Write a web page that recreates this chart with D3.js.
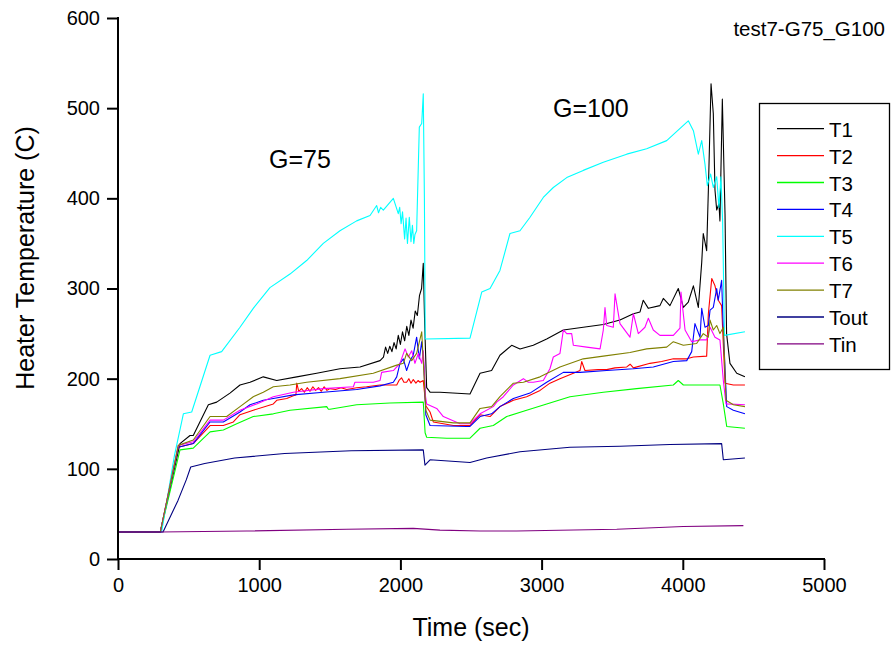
<!DOCTYPE html>
<html>
<head>
<meta charset="utf-8">
<script src="https://cdn.jsdelivr.net/npm/d3@7"></script>
<style>
  body { margin: 0; background: #fff; }
  svg { display: block; font-family: 'Liberation Sans', Arial, sans-serif; }
</style>
</head>
<body>
<svg id="chart" width="893" height="648"></svg>
<script>
// series names, colours and [time (sec), temperature (C)] readings
const names = ['T1', 'T2', 'T3', 'T4', 'T5', 'T6', 'T7', 'Tout', 'Tin'];
const colors = ['#000000', '#ff0000', '#00ff00', '#0000ff', '#00ffff', '#ff00ff', '#808000', '#000080', '#800080'];

const t1 = [[0,30],[300,30],[439,128],[510,137],[533,137],[640,171],[699,174],[793,184],[864,193],[935,196],[1029,202],[1124,198],[1266,202],[1407,206],[1572,211],[1714,213],[1856,220],[1880,224],[1895,235],[1910,228],[1925,236],[1940,230],[1955,240],[1970,233],[1985,248],[2000,238],[2015,252],[2030,242],[2045,258],[2060,248],[2075,265],[2090,256],[2105,275],[2120,270],[2135,292],[2150,300],[2162,328],[2172,260],[2186,190],[2210,185],[2280,185],[2493,183],[2564,206],[2646,209],[2705,226],[2788,237],[2847,233],[2941,237],[3036,244],[3154,254],[3295,257],[3437,260],[3555,265],[3650,272],[3697,274],[3720,287],[3756,278],[3838,281],[3862,289],[3909,281],[3968,300],[4004,279],[4039,285],[4075,303],[4110,279],[4134,329],[4145,361],[4169,342],[4181,409],[4200,527],[4216,494],[4228,409],[4240,387],[4256,394],[4263,375],[4280,510],[4299,383],[4310,250],[4334,217],[4382,206],[4440,202]];
const t2 = [[0,30],[300,30],[427,124],[533,128],[652,148],[746,148],[817,152],[864,160],[958,165],[1100,172],[1124,176],[1195,178],[1242,181],[1260,182],[1266,195],[1280,186],[1300,189],[1320,185],[1340,190],[1360,186],[1380,191],[1400,187],[1420,190],[1440,186],[1460,191],[1480,187],[1501,189],[1540,188],[1580,190],[1620,188],[1690,190],[1760,191],[1856,193],[1974,193],[1990,198],[2008,201],[2025,196],[2044,196],[2060,200],[2075,195],[2091,199],[2110,195],[2125,198],[2139,196],[2162,198],[2180,170],[2210,163],[2233,152],[2375,148],[2493,148],[2564,160],[2635,158],[2705,169],[2800,176],[2894,180],[2989,187],[3059,195],[3130,200],[3225,206],[3272,209],[3284,219],[3307,209],[3400,210],[3461,210],[3520,212],[3603,213],[3627,216],[3650,212],[3768,217],[3850,219],[3933,222],[4028,222],[4075,224],[4169,225],[4181,272],[4205,311],[4228,303],[4251,287],[4275,281],[4299,195],[4358,193],[4440,193]];
const t3 = [[0,30],[300,30],[439,121],[533,123],[652,141],[746,143],[841,150],[958,158],[1100,161],[1218,165],[1478,169],[1490,166],[1501,166],[1690,171],[1926,173],[2162,174],[2175,140],[2186,135],[2328,134],[2493,134],[2564,145],[2658,148],[2753,158],[2894,165],[3036,172],[3201,180],[3437,185],[3673,189],[3933,193],[3968,198],[4004,193],[4263,193],[4287,172],[4311,147],[4440,145]];
const t4 = [[0,30],[300,30],[427,124],[533,128],[652,152],[746,152],[864,163],[935,171],[1029,176],[1100,178],[1242,182],[1454,185],[1690,188],[1856,192],[1950,196],[1974,202],[1997,217],[2021,222],[2044,209],[2068,220],[2091,226],[2115,246],[2134,222],[2151,241],[2167,213],[2180,160],[2210,148],[2470,147],[2493,147],[2564,158],[2646,161],[2705,169],[2800,178],[2918,184],[3036,196],[3154,207],[3272,207],[3461,209],[3650,211],[3791,213],[3933,219],[4028,220],[4063,230],[4086,261],[4122,246],[4134,278],[4157,257],[4181,259],[4193,276],[4216,279],[4240,300],[4251,287],[4275,309],[4287,254],[4311,169],[4358,165],[4440,161]];
const t5 = [[0,30],[309,30],[400,115],[463,161],[522,163],[652,226],[734,230],[864,257],[958,278],[1076,301],[1218,316],[1336,331],[1454,350],[1572,364],[1690,375],[1785,381],[1832,392],[1845,384],[1860,390],[1879,387],[1950,400],[1985,383],[1995,390],[2005,372],[2015,385],[2030,355],[2040,378],[2050,350],[2063,379],[2075,352],[2085,370],[2095,350],[2103,360],[2115,364],[2134,479],[2151,483],[2162,516],[2170,400],[2176,244],[2493,245],[2576,296],[2635,300],[2705,320],[2776,361],[2847,364],[2918,379],[3012,401],[3083,412],[3178,423],[3295,431],[3437,440],[3603,449],[3744,455],[3886,464],[4004,481],[4039,486],[4075,475],[4110,449],[4134,464],[4157,438],[4174,414],[4197,427],[4216,412],[4240,424],[4256,390],[4270,424],[4282,375],[4295,248],[4440,252]];
const t6 = [[0,30],[300,30],[427,126],[533,130],[652,154],[746,154],[864,165],[982,172],[1100,180],[1242,185],[1454,189],[1667,191],[1678,196],[1808,196],[1856,198],[1867,207],[1950,209],[1997,217],[2033,233],[2056,224],[2080,231],[2103,217],[2127,228],[2151,217],[2162,231],[2178,180],[2186,172],[2257,167],[2304,158],[2422,150],[2493,150],[2564,161],[2658,169],[2682,174],[2729,180],[2800,193],[2871,200],[2906,196],[2941,196],[3012,198],[3059,211],[3083,224],[3130,228],[3154,254],[3178,250],[3213,250],[3225,237],[3319,235],[3414,233],[3437,254],[3449,279],[3461,259],[3508,257],[3520,294],[3555,261],[3626,246],[3650,272],[3685,250],[3732,257],[3756,267],[3791,254],[3838,248],[3933,248],[3980,256],[3987,296],[4016,254],[4063,241],[4122,243],[4169,243],[4193,257],[4228,246],[4263,243],[4287,198],[4306,172],[4440,171]];
const t7 = [[0,30],[300,30],[427,126],[533,132],[652,158],[770,158],[864,169],[958,180],[1029,185],[1100,191],[1218,193],[1336,196],[1572,200],[1808,206],[1974,215],[2021,217],[2044,228],[2080,220],[2115,228],[2151,252],[2162,220],[2180,165],[2210,154],[2375,151],[2493,151],[2564,167],[2646,169],[2705,180],[2800,195],[2871,196],[2989,202],[3130,213],[3295,222],[3437,225],[3626,229],[3744,233],[3886,235],[3933,241],[4004,237],[4098,239],[4145,250],[4181,246],[4193,265],[4216,254],[4240,259],[4263,250],[4287,257],[4306,176],[4358,171],[4440,169]];
const tout = [[0,30],[319,30],[425,65],[484,88],[515,102],[614,106],[826,112],[1180,117],[1652,120],[2162,121],[2174,104],[2210,110],[2493,107],[2611,112],[2847,119],[3201,124],[3555,125],[3909,127],[4275,128],[4287,110],[4440,112]];
const tin = [[0,30],[297,30],[911,31],[1620,33],[2091,34],[2280,32],[2564,31],[2823,31],[3532,33],[4004,36],[4429,37]];

const seriesData = [t1, t2, t3, t4, t5, t6, t7, tout, tin];

const xTicks = [0, 1000, 2000, 3000, 4000, 5000];
const yTicks = [0, 100, 200, 300, 400, 500, 600];

const svg = d3.select('#chart');

// plot area
const x = d3.scaleLinear().domain([0, 5000]).range([118, 824]);
const y = d3.scaleLinear().domain([0, 600]).range([559, 18]);

// lines
const line = d3.line().x(d => x(d[0])).y(d => y(d[1]));
svg.append('g')
  .selectAll('path')
  .data(seriesData)
  .enter()
  .append('path')
  .attr('d', line)
  .attr('fill', 'none')
  .attr('stroke', (d, i) => colors[i])
  .attr('stroke-width', 1.1)
  .attr('stroke-linejoin', 'round');

// x axis: major + minor ticks
const xAxis = svg.append('g').attr('transform', 'translate(0,559)');
xAxis.call(d3.axisBottom(x).tickValues(d3.range(500, 5000, 1000)).tickSize(6).tickFormat(''));
xAxis.call(d3.axisBottom(x).tickValues(xTicks).tickSize(11).tickPadding(8).tickFormat(d3.format('d')));
xAxis.selectAll('.domain').remove();
xAxis.append('line').attr('x1', 117).attr('x2', 825).attr('stroke', '#000').attr('stroke-width', 2);

// y axis
const yAxis = svg.append('g').attr('transform', 'translate(118,0)');
yAxis.call(d3.axisLeft(y).tickValues(d3.range(50, 600, 100)).tickSize(6).tickFormat(''));
yAxis.call(d3.axisLeft(y).tickValues(yTicks).tickSize(11).tickPadding(7).tickFormat(d3.format('d')));
yAxis.selectAll('.domain').remove();
yAxis.append('line').attr('y1', 17).attr('y2', 560).attr('stroke', '#000').attr('stroke-width', 2);

svg.selectAll('.tick line').attr('stroke', '#000').attr('stroke-width', 2);
svg.selectAll('.tick text').attr('font-size', 20).attr('fill', '#000')
  .attr('font-family', "'Liberation Sans', Arial, sans-serif");

// axis titles
svg.append('text')
  .attr('x', 471).attr('y', 636)
  .attr('text-anchor', 'middle')
  .attr('font-size', 25)
  .text('Time (sec)');
svg.append('text')
  .attr('transform', 'translate(34,258) rotate(-90)')
  .attr('text-anchor', 'middle')
  .attr('font-size', 25)
  .text('Heater Temperature (C)');

// annotations
svg.append('text').attr('x', 885).attr('y', 36).attr('text-anchor', 'end')
  .attr('font-size', 20.5).text('test7-G75_G100');
svg.append('text').attr('x', 269).attr('y', 168).attr('font-size', 25).text('G=75');
svg.append('text').attr('x', 553).attr('y', 117).attr('font-size', 25).text('G=100');

// legend
const legend = svg.append('g');
legend.append('rect')
  .attr('x', 759.5).attr('y', 103.5).attr('width', 130).attr('height', 266)
  .attr('fill', '#fff').attr('stroke', '#000').attr('stroke-width', 1.3);
const rows = legend.selectAll('g.row')
  .data(names)
  .enter()
  .append('g')
  .attr('class', 'row')
  .attr('transform', (d, i) => 'translate(0,' + (136.7 + i * 26.9) + ')');
rows.append('line')
  .attr('x1', 777).attr('x2', 824).attr('y1', -8).attr('y2', -8)
  .attr('stroke', (d, i) => colors[i]).attr('stroke-width', 1.3);
rows.append('text')
  .attr('x', 829).attr('y', 0)
  .attr('font-size', 20.5)
  .text(d => d);
</script>
</body>
</html>
